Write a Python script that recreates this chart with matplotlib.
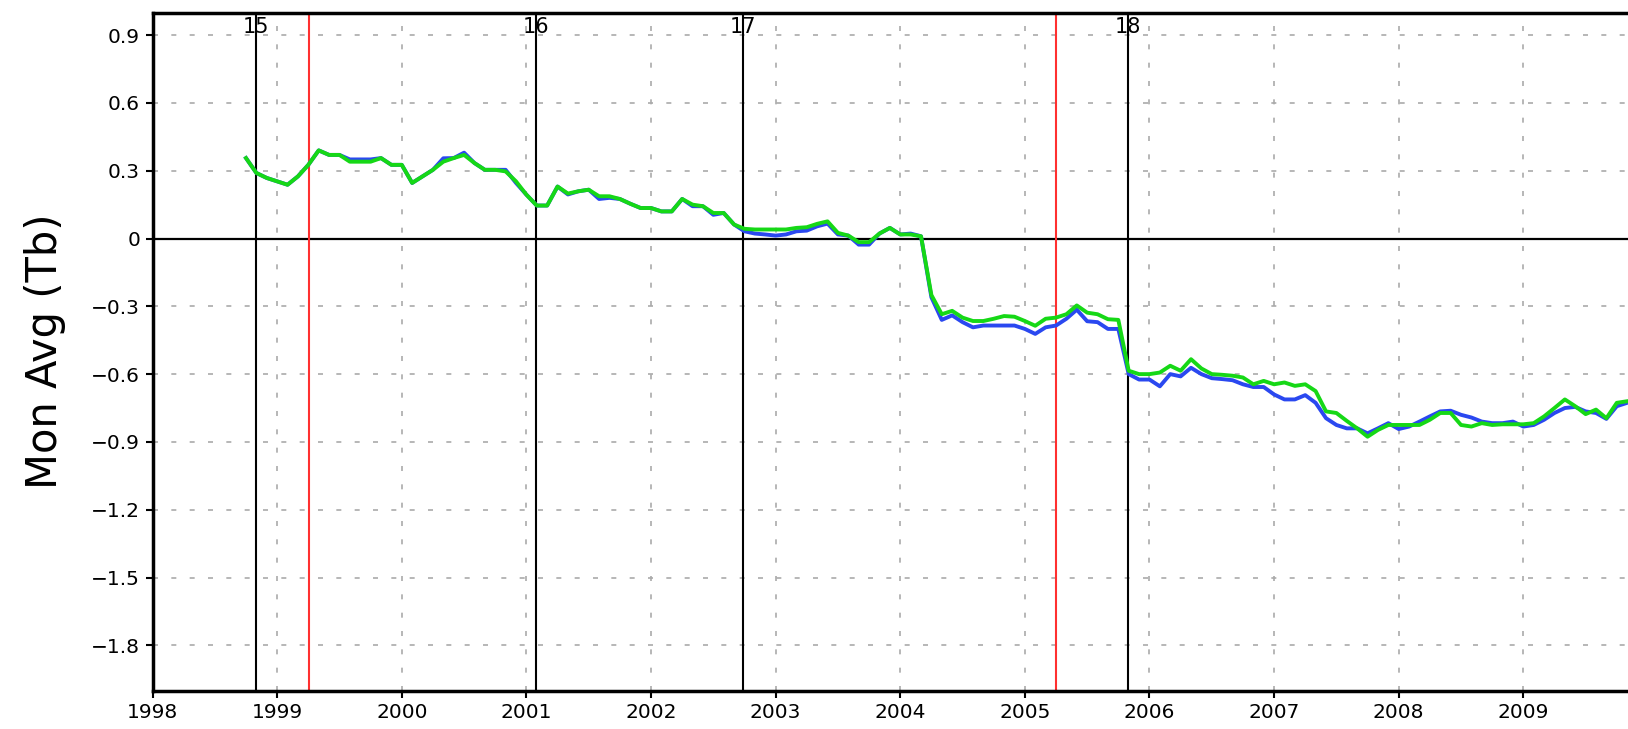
import numpy as np
import matplotlib
matplotlib.use("Agg")
import matplotlib.pyplot as plt
import matplotlib.transforms as mtransforms

# ---------------- data ----------------
start_year = 1998 + 9 / 12.0   # Oct 1998, monthly values

green_vals = [
    0.356, 0.29, 0.268, 0.253, 0.238, 0.275, 0.326, 0.39, 0.37, 0.37,
    0.34, 0.34, 0.34, 0.356, 0.326, 0.326, 0.246, 0.275, 0.304, 0.34,
    0.356, 0.37, 0.334, 0.304, 0.304, 0.297, 0.253, 0.194, 0.146, 0.146,
    0.23, 0.199, 0.209, 0.216, 0.187, 0.187, 0.175, 0.154, 0.135, 0.135,
    0.12, 0.12, 0.175, 0.15, 0.143, 0.113, 0.113, 0.062, 0.043, 0.04,
    0.04, 0.04, 0.04, 0.047, 0.05, 0.065, 0.076, 0.025, 0.013, -0.016,
    -0.016, 0.022, 0.047, 0.018, 0.018, 0.01, -0.25, -0.335, -0.32, -0.35,
    -0.365, -0.365, -0.355, -0.343, -0.346, -0.365, -0.386, -0.355, -0.35, -0.335,
    -0.296, -0.328, -0.335, -0.357, -0.36, -0.585, -0.6, -0.6, -0.593, -0.563,
    -0.585, -0.534, -0.575, -0.6, -0.603, -0.607, -0.615, -0.645, -0.63, -0.645,
    -0.637, -0.652, -0.645, -0.675, -0.765, -0.772, -0.807, -0.84, -0.877, -0.847,
    -0.825, -0.825, -0.825, -0.825, -0.802, -0.772, -0.772, -0.825, -0.832, -0.817,
    -0.825, -0.822, -0.822, -0.822, -0.817, -0.787, -0.75, -0.712, -0.742, -0.777,
    -0.757, -0.795, -0.727, -0.72,
]

blue_vals = [
    0.356, 0.29, 0.268, 0.253, 0.238, 0.275, 0.326, 0.39, 0.37, 0.37,
    0.35, 0.35, 0.35, 0.356, 0.326, 0.326, 0.246, 0.275, 0.304, 0.355,
    0.356, 0.38, 0.334, 0.304, 0.304, 0.304, 0.246, 0.194, 0.146, 0.146,
    0.23, 0.195, 0.209, 0.216, 0.175, 0.18, 0.175, 0.154, 0.135, 0.135,
    0.12, 0.12, 0.175, 0.143, 0.143, 0.105, 0.113, 0.062, 0.032, 0.022,
    0.018, 0.013, 0.018, 0.032, 0.035, 0.054, 0.066, 0.018, 0.013, -0.027,
    -0.027, 0.022, 0.047, 0.018, 0.022, 0.01, -0.26, -0.36, -0.34, -0.37,
    -0.393, -0.385, -0.385, -0.385, -0.385, -0.4, -0.422, -0.393, -0.385, -0.355,
    -0.315, -0.366, -0.37, -0.4, -0.4, -0.6, -0.624, -0.624, -0.654, -0.6,
    -0.61, -0.572, -0.6, -0.618, -0.622, -0.627, -0.645, -0.657, -0.657, -0.69,
    -0.712, -0.712, -0.693, -0.727, -0.795, -0.825, -0.84, -0.84, -0.862, -0.84,
    -0.817, -0.843, -0.832, -0.81, -0.787, -0.765, -0.762, -0.78, -0.792, -0.81,
    -0.817, -0.817, -0.81, -0.832, -0.825, -0.802, -0.772, -0.75, -0.745, -0.765,
    -0.772, -0.798, -0.742, -0.727,
]

year_ticks = list(range(1998, 2010))
year_labels = [str(y) for y in year_ticks]
y_ticks = [0.9, 0.6, 0.3, 0.0, -0.3, -0.6, -0.9, -1.2, -1.5, -1.8]
y_labels = ['0.9', '0.6', '0.3', '0', '\u22120.3', '\u22120.6', '\u22120.9',
            '\u22121.2', '\u22121.5', '\u22121.8']

sat_lines = [1998.83, 2001.08, 2002.74, 2005.83]
sat_labels = ['15', '16', '17', '18']
red_lines = [1999.255, 2005.25]

# ---------------- plot ----------------
x = start_year + np.arange(len(green_vals)) / 12.0

fig = plt.figure(figsize=(16.28, 7.29), dpi=100)
ax = fig.add_axes([0.0937, 0.0528, 0.9063, 0.930])

ax.set_xlim(1998, 2009.84)
ax.set_ylim(-2.0, 1.0)

ax.set_xticks(year_ticks)
ax.set_xticklabels(year_labels, fontsize=14.5)
ax.set_yticks(y_ticks)
ax.set_yticklabels(y_labels, fontsize=14.5)
ax.tick_params(direction='out', length=5, width=1.5, pad=4)

ax.grid(True, color='#aaaaaa', linestyle=(0, (3, 8)), linewidth=1.2)
ax.set_axisbelow(True)

for s in ['left', 'top', 'bottom']:
    ax.spines[s].set_linewidth(2.5)
ax.spines['right'].set_visible(False)

ax.axhline(0, color='black', linewidth=1.6, zorder=2)

for xv in red_lines:
    ax.axvline(xv, color='#ff3030', linewidth=1.5, zorder=2)

trans = mtransforms.blended_transform_factory(ax.transData, ax.transAxes)
for xv, lab in zip(sat_lines, sat_labels):
    ax.axvline(xv, color='black', linewidth=1.5, zorder=2)
    ax.text(xv, 0.993, lab, transform=trans, ha='center', va='top',
            fontsize=15, color='black')

ax.plot(x, blue_vals, color='#2a48f0', linewidth=2.8, zorder=3)
ax.plot(x, green_vals, color='#16d816', linewidth=2.8, zorder=4)

ax.set_ylabel('Mon Avg (Tb)', fontsize=30, labelpad=18)

fig.savefig('out.png', dpi=100)
